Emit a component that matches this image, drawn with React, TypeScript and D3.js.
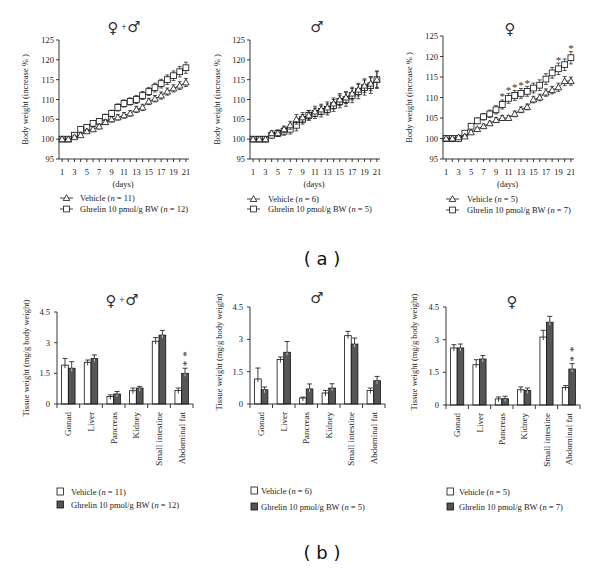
import * as d3 from 'd3';

// ---- data ----
const days = [1, 2, 3, 4, 5, 6, 7, 8, 9, 10, 11, 12, 13, 14, 15, 16, 17, 18, 19, 20, 21];
const dayLabels = [1, 3, 5, 7, 9, 11, 13, 15, 17, 19, 21];
const bwTicks = [95, 100, 105, 110, 115, 120, 125];

// female + male
const bothVehicle = [100, 100, 100.5, 101, 102, 102.5, 103.2, 104.3, 105, 105.5, 106, 106.5, 107.5, 108, 109.5, 110.2, 111, 112, 112.8, 113.5, 114.3];
const bothVehicleErr = [0.3, 0.3, 0.4, 0.5, 0.5, 0.6, 0.6, 0.6, 0.7, 0.7, 0.7, 0.7, 0.8, 0.8, 0.8, 0.8, 0.9, 0.9, 0.9, 1.0, 1.0];
const bothGhrelin = [100, 100, 101, 102.5, 103, 104, 104.5, 105.5, 106.5, 108, 109, 109.5, 110, 111, 112, 113, 114, 115, 116, 117, 118];
const bothGhrelinErr = [0.3, 0.4, 0.5, 0.6, 0.6, 0.7, 0.7, 0.8, 0.8, 0.9, 0.9, 0.9, 1.0, 1.0, 1.0, 1.1, 1.1, 1.2, 1.2, 1.3, 1.4];

// male
const maleVehicle = [100, 100, 100, 101.5, 101.5, 102.5, 103.5, 105, 105.5, 106, 107, 107.5, 108, 109, 110, 110.5, 111.5, 112.5, 113.5, 114, 115];
const maleVehicleErr = [0.5, 0.6, 0.6, 0.6, 0.7, 0.8, 1.0, 1.2, 1.2, 1.2, 1.3, 1.3, 1.4, 1.4, 1.5, 1.5, 1.6, 1.6, 1.7, 1.8, 2.0];
const maleGhrelin = [100, 100, 100, 101, 101.5, 102, 102.5, 103.5, 105, 106, 106.5, 107, 107.5, 108.5, 109.5, 110, 111, 112, 113, 113.5, 115];
const maleGhrelinErr = [0.5, 0.6, 0.6, 0.7, 0.8, 1.0, 1.2, 1.4, 1.2, 1.2, 1.3, 1.4, 1.4, 1.5, 1.6, 1.7, 1.8, 1.8, 1.9, 2.0, 2.2];

// female
const femaleVehicle = [100, 100, 100.3, 100.5, 101.5, 102.3, 103, 103.7, 104.5, 105, 105, 106, 107, 107.7, 109.5, 110, 111.2, 111.8, 112.5, 114, 114];
const femaleVehicleErr = [0.3, 0.3, 0.3, 0.4, 0.4, 0.4, 0.5, 0.5, 0.6, 0.6, 0.6, 0.7, 0.7, 0.7, 0.8, 0.8, 0.9, 0.9, 1.0, 1.1, 1.0];
const femaleGhrelin = [100, 100, 100, 101.3, 103, 104.3, 105.3, 106, 107, 108.3, 109.8, 110.5, 111, 111.5, 112.3, 113, 114.5, 116, 117, 118, 119.7];
const femaleGhrelinErr = [0.3, 0.3, 0.4, 0.5, 0.6, 0.7, 0.8, 0.9, 1.0, 1.1, 1.2, 1.2, 1.2, 1.2, 1.2, 1.3, 1.3, 1.3, 1.4, 1.4, 1.5];
const femaleStarDays = [10, 11, 12, 13, 14, 19, 21];

const organs = ['Gonad', 'Liver', 'Pancreas', 'Kidney', 'Small intestine', 'Abdominal fat'];
const tissueTicks = [0, 1.5, 3, 4.5];

const bothTissueVehicle = [1.9, 2.04, 0.37, 0.65, 3.07, 0.66];
const bothTissueVehicleErr = [0.33, 0.11, 0.08, 0.13, 0.18, 0.12];
const bothTissueGhrelin = [1.75, 2.22, 0.49, 0.78, 3.37, 1.5];
const bothTissueGhrelinErr = [0.32, 0.18, 0.12, 0.08, 0.23, 0.25];

const maleTissueVehicle = [1.16, 2.06, 0.28, 0.51, 3.17, 0.63];
const maleTissueVehicleErr = [0.51, 0.12, 0.04, 0.12, 0.2, 0.11];
const maleTissueGhrelin = [0.66, 2.4, 0.7, 0.74, 2.78, 1.08];
const maleTissueGhrelinErr = [0.13, 0.5, 0.23, 0.2, 0.28, 0.2];

const femaleTissueVehicle = [2.62, 1.85, 0.28, 0.7, 3.12, 0.8];
const femaleTissueVehicleErr = [0.15, 0.23, 0.09, 0.13, 0.31, 0.09];
const femaleTissueGhrelin = [2.62, 2.11, 0.29, 0.67, 3.8, 1.65];
const femaleTissueGhrelinErr = [0.18, 0.16, 0.11, 0.11, 0.27, 0.25];

// stars only over these organs (ghrelin bar)
const bothTissueStars = ['Abdominal fat'];
const maleTissueStars: string[] = [];
const femaleTissueStars = ['Abdominal fat'];

const serif = '"Liberation Serif", "DejaVu Serif", serif';
const symFont = '"DejaVu Sans", sans-serif';

function Title({ kind, x, y }: any) {
  if (kind === 'both') {
    return (
      <g fontFamily={symFont} fill="#333">
        <text x={x - 10} y={y} fontSize={15} textAnchor="middle">♀</text>
        <text x={x + 1} y={y - 4} fontSize={7} textAnchor="middle">+</text>
        <text x={x + 11} y={y - 1} fontSize={15} textAnchor="middle">♂</text>
      </g>
    );
  }
  return (
    <text x={x} y={y} fontSize={15} textAnchor="middle" fontFamily={symFont} fill="#333">
      {kind === 'male' ? '♂' : '♀'}
    </text>
  );
}

function Triangle({ cx, cy, s = 3.3 }: any) {
  const p = `${cx},${cy - s} ${cx - s},${cy + s * 0.75} ${cx + s},${cy + s * 0.75}`;
  return <polygon points={p} fill="#fff" stroke="#111" strokeWidth={0.8} />;
}

function Square({ cx, cy, s = 2.9 }: any) {
  return <rect x={cx - s} y={cy - s} width={s * 2} height={s * 2} fill="#fff" stroke="#111" strokeWidth={0.8} />;
}

function LinePanel({ cfg }: any) {
  const x = d3.scaleLinear().domain([0.5, 21.5]).range([cfg.x0, cfg.x1]);
  const y = d3.scaleLinear().domain([95, 125]).range([cfg.yBot, cfg.yTop]);
  const line = d3.line<number>().x((_, i) => x(days[i])).y((d) => y(d));
  const series = [
    { vals: cfg.g, err: cfg.gErr, mk: 'sq' },
    { vals: cfg.v, err: cfg.vErr, mk: 'tri' },
  ];
  return (
    <g>
      <Title kind={cfg.title} x={cfg.titleX} y={cfg.titleY} />
      {/* y axis */}
      <line x1={cfg.x0} x2={cfg.x0} y1={y(95)} y2={y(125)} stroke="#222" strokeWidth={0.9} />
      {bwTicks.map((t) => (
        <g key={t}>
          <line x1={cfg.x0 - 3} x2={cfg.x0} y1={y(t)} y2={y(t)} stroke="#222" strokeWidth={0.9} />
          <text x={cfg.x0 - 5} y={y(t) + 3} fontSize={8.5} textAnchor="end" fontFamily={serif} fill="#222">{t}</text>
        </g>
      ))}
      <text transform={`translate(${cfg.ylabelX},${(cfg.yTop + cfg.yBot) / 2}) rotate(-90)`} fontSize={8.5} textAnchor="middle" fontFamily={serif} fill="#222">
        Body weight (increase % )
      </text>
      {/* x axis */}
      <line x1={cfg.x0} x2={cfg.x1} y1={y(95)} y2={y(95)} stroke="#222" strokeWidth={0.9} />
      {days.map((d) => (
        <line key={d} x1={x(d)} x2={x(d)} y1={y(95)} y2={y(95) + 3} stroke="#222" strokeWidth={0.9} />
      ))}
      {dayLabels.map((d) => (
        <text key={d} x={x(d)} y={y(95) + 16} fontSize={8.5} textAnchor="middle" fontFamily={serif} fill="#222">{d}</text>
      ))}
      <text x={(cfg.x0 + cfg.x1) / 2 - 1} y={y(95) + 28} fontSize={8.5} textAnchor="middle" fontFamily={serif} fill="#222">(days)</text>
      {/* series */}
      {series.map((s, si) => (
        <g key={si}>
          <path d={line(s.vals) ?? ''} fill="none" stroke="#111" strokeWidth={0.8} />
          {s.vals.map((v: number, i: number) => {
            const cx = x(days[i]);
            const e = s.err[i];
            return (
              <g key={i} stroke="#111" strokeWidth={0.7}>
                <line x1={cx} x2={cx} y1={y(v - e)} y2={y(v + e)} />
                <line x1={cx - 2} x2={cx + 2} y1={y(v + e)} y2={y(v + e)} />
                <line x1={cx - 2} x2={cx + 2} y1={y(v - e)} y2={y(v - e)} />
              </g>
            );
          })}
          {s.vals.map((v: number, i: number) =>
            s.mk === 'sq' ? <Square key={'m' + i} cx={x(days[i])} cy={y(v)} /> : <Triangle key={'m' + i} cx={x(days[i])} cy={y(v)} />
          )}
        </g>
      ))}
      {cfg.stars.map((d: number) => {
        const i = days.indexOf(d);
        return (
          <text key={d} x={x(d)} y={y(cfg.g[i] + cfg.gErr[i]) + 0.5} fontSize={11} textAnchor="middle" fontFamily={serif} fill="#333">*</text>
        );
      })}
      {/* legend */}
      <g>
        <line x1={cfg.lx} x2={cfg.lx + 13} y1={cfg.ly[0]} y2={cfg.ly[0]} stroke="#111" strokeWidth={0.8} />
        <Triangle cx={cfg.lx + 6.5} cy={cfg.ly[0]} />
        <text x={cfg.ltx} y={cfg.ly[0] + 3} fontSize={8.5} fontFamily={serif} fill="#222">
          Vehicle (<tspan fontStyle="italic">n</tspan> = {cfg.nV})
        </text>
        <line x1={cfg.lx} x2={cfg.lx + 13} y1={cfg.ly[1]} y2={cfg.ly[1]} stroke="#111" strokeWidth={0.8} />
        <Square cx={cfg.lx + 6.5} cy={cfg.ly[1]} />
        <text x={cfg.ltx} y={cfg.ly[1] + 3} fontSize={8.5} fontFamily={serif} fill="#222">
          Ghrelin 10 pmol/g BW (<tspan fontStyle="italic">n</tspan> = {cfg.nG})
        </text>
      </g>
    </g>
  );
}

function BarPanel({ cfg }: any) {
  const x = d3.scaleBand<string>().domain(organs).range([cfg.x0, cfg.x1]).padding(0);
  const bw = x.bandwidth();
  const x1 = d3.scaleBand<string>().domain(['v', 'g']).range([4.6, bw - 4.6]).padding(0);
  const y = d3.scaleLinear().domain([0, 4.5]).range([cfg.yBot, cfg.yTop]);
  const groups = [
    { key: 'v', vals: cfg.v, err: cfg.vErr, fill: '#fff' },
    { key: 'g', vals: cfg.g, err: cfg.gErr, fill: '#555' },
  ];
  const edges = organs.map((o) => x(o) as number).concat([cfg.x1]);
  return (
    <g>
      <Title kind={cfg.title} x={cfg.titleX} y={cfg.titleY} />
      <line x1={cfg.x0} x2={cfg.x0} y1={y(0)} y2={y(4.5)} stroke="#222" strokeWidth={0.9} />
      {tissueTicks.map((t) => (
        <g key={t}>
          <line x1={cfg.x0 - 3} x2={cfg.x0} y1={y(t)} y2={y(t)} stroke="#222" strokeWidth={0.9} />
          <text x={cfg.x0 - 7} y={y(t) + 3} fontSize={8.5} textAnchor="end" fontFamily={serif} fill="#222">{t}</text>
        </g>
      ))}
      <text transform={`translate(${cfg.ylabelX},${cfg.ylabelY}) rotate(-90)`} fontSize={8.5} textAnchor="middle" fontFamily={serif} fill="#222">
        Tissue weight (mg/g body weight)
      </text>
      {groups.map((gr) =>
        organs.map((o, i) => {
          const bx = (x(o) as number) + (x1(gr.key) as number);
          const w = x1.bandwidth();
          const v = gr.vals[i];
          const e = gr.err[i];
          const cx = bx + w / 2;
          return (
            <g key={gr.key + o}>
              <line x1={cx} x2={cx} y1={y(v)} y2={y(v + e)} stroke="#111" strokeWidth={0.8} />
              <line x1={cx - 2.5} x2={cx + 2.5} y1={y(v + e)} y2={y(v + e)} stroke="#111" strokeWidth={0.8} />
              <rect x={bx} y={y(v)} width={w} height={y(0) - y(v)} fill={gr.fill} stroke="#111" strokeWidth={0.8} />
              <line x1={cx} x2={cx} y1={y(v)} y2={y(v) + 3} stroke={gr.key === 'v' ? '#111' : '#ddd'} strokeWidth={0.8} />
            </g>
          );
        })
      )}
      {/* stars above the ghrelin bar, written upward like the category labels */}
      {cfg.stars.map((o: string) => {
        const i = organs.indexOf(o);
        const cx = (x(o) as number) + (x1('g') as number) + x1.bandwidth() / 2;
        const top = y(cfg.g[i] + cfg.gErr[i]);
        return (
          <text key={o} transform={`translate(${cx + 4.5},${top - 2}) rotate(-90)`} fontFamily={serif} fontSize={11} fill="#333" letterSpacing={4}>
            **
          </text>
        );
      })}
      <line x1={cfg.x0} x2={cfg.x1} y1={y(0)} y2={y(0)} stroke="#222" strokeWidth={0.9} />
      {edges.map((ex, i) => (
        <line key={i} x1={ex} x2={ex} y1={y(0)} y2={y(0) + 4} stroke="#222" strokeWidth={0.9} />
      ))}
      {organs.map((o) => (
        <text key={o} transform={`translate(${(x(o) as number) + bw / 2 + 3},${y(0) + 8}) rotate(-90)`} fontSize={9} textAnchor="end" fontFamily={serif} fill="#222">
          {o}
        </text>
      ))}
      {/* legend */}
      <rect x={cfg.lx} y={cfg.ly[0] - 7} width={6.5} height={7} fill="#fff" stroke="#111" strokeWidth={0.8} />
      <text x={cfg.ltx} y={cfg.ly[0]} fontSize={8.5} fontFamily={serif} fill="#222">
        Vehicle (<tspan fontStyle="italic">n</tspan> = {cfg.nV})
      </text>
      <rect x={cfg.lx} y={cfg.ly[1] - 7} width={6.5} height={7} fill="#555" stroke="#111" strokeWidth={0.8} />
      <text x={cfg.ltx} y={cfg.ly[1]} fontSize={8.5} fontFamily={serif} fill="#222">
        Ghrelin 10 pmol/g BW (<tspan fontStyle="italic">n</tspan> = {cfg.nG})
      </text>
    </g>
  );
}

const linePanels = [
  { title: 'both', titleX: 123, titleY: 33, x0: 59, x1: 189, yTop: 40, yBot: 159, ylabelX: 28,
    v: bothVehicle, vErr: bothVehicleErr, g: bothGhrelin, gErr: bothGhrelinErr, stars: [],
    lx: 60, ltx: 80, ly: [198, 209], nV: 11, nG: 12 },
  { title: 'male', titleX: 317, titleY: 32, x0: 250, x1: 380, yTop: 40, yBot: 159, ylabelX: 220,
    v: maleVehicle, vErr: maleVehicleErr, g: maleGhrelin, gErr: maleGhrelinErr, stars: [],
    lx: 247, ltx: 268, ly: [199, 209], nV: 6, nG: 5 },
  { title: 'female', titleX: 510, titleY: 34, x0: 443, x1: 574, yTop: 36, yBot: 159, ylabelX: 412,
    v: femaleVehicle, vErr: femaleVehicleErr, g: femaleGhrelin, gErr: femaleGhrelinErr, stars: femaleStarDays,
    lx: 446, ltx: 467, ly: [199, 210], nV: 5, nG: 7 },
];

const barPanels = [
  { title: 'both', titleX: 121, titleY: 306, x0: 57, x1: 193, yTop: 312, yBot: 404, ylabelX: 29, ylabelY: 358,
    v: bothTissueVehicle, vErr: bothTissueVehicleErr, g: bothTissueGhrelin, gErr: bothTissueGhrelinErr, stars: bothTissueStars,
    lx: 57, ltx: 71, ly: [495, 508], nV: 11, nG: 12 },
  { title: 'male', titleX: 317, titleY: 303, x0: 250, x1: 385, yTop: 307, yBot: 404, ylabelX: 222, ylabelY: 352,
    v: maleTissueVehicle, vErr: maleTissueVehicleErr, g: maleTissueGhrelin, gErr: maleTissueGhrelinErr, stars: maleTissueStars,
    lx: 251, ltx: 261, ly: [494, 510], nV: 6, nG: 5 },
  { title: 'female', titleX: 512, titleY: 307, x0: 446, x1: 580, yTop: 307, yBot: 405, ylabelX: 417, ylabelY: 352,
    v: femaleTissueVehicle, vErr: femaleTissueVehicleErr, g: femaleTissueGhrelin, gErr: femaleTissueGhrelinErr, stars: femaleTissueStars,
    lx: 447, ltx: 459, ly: [495, 510], nV: 5, nG: 7 },
];

export default function App() {
  return (
    <svg width={600} height={568} style={{ position: 'absolute', left: 0, top: 0, background: '#fff' }}>
      <rect width={600} height={568} fill="#fff" />
      {linePanels.map((c, i) => <LinePanel key={i} cfg={c} />)}
      {barPanels.map((c, i) => <BarPanel key={i} cfg={c} />)}
      <text x={322} y={265} fontSize={18} textAnchor="middle" fontFamily='"DejaVu Sans", sans-serif' fill="#111">( a )</text>
      <text x={322} y={559} fontSize={18} textAnchor="middle" fontFamily='"DejaVu Sans", sans-serif' fill="#111">( b )</text>
    </svg>
  );
}
